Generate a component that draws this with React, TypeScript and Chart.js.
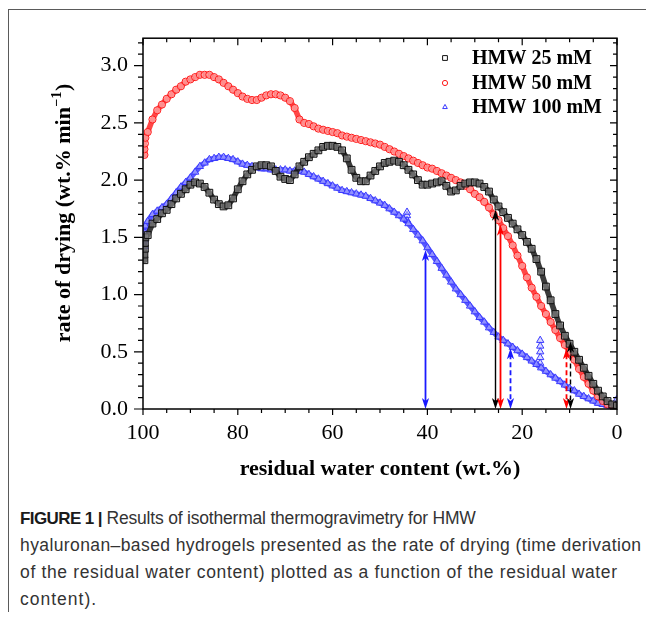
import React, { useEffect, useRef } from "react";
import { Chart, registerables } from "chart.js";

Chart.register(...registerables);

// ---------- data ----------
const seriesLabels = ["HMW 25 mM", "HMW 50 mM", "HMW 100 mM"];

const xTickValues = [100, 80, 60, 40, 20, 0];
const yTickValues = [0, 0.5, 1.0, 1.5, 2.0, 2.5, 3.0];

// residual water content (wt.%)
const waterContent = [
  99, 98, 97, 96, 95, 94, 93, 92, 91, 90, 89, 88, 87, 86, 85, 84, 83, 82, 81, 80,
  79, 78, 77, 76, 75, 74, 73, 72, 71, 70, 69, 68, 67, 66, 65, 64, 63, 62, 61, 60,
  59, 58, 57, 56, 55, 54, 53, 52, 51, 50, 49, 48, 47, 46, 45, 44, 43, 42, 41, 40,
  39, 38, 37, 36, 35, 34, 33, 32, 31, 30, 29, 28, 27, 26, 25, 24, 23, 22, 21, 20,
  19, 18, 17, 16, 15, 14, 13, 12, 11, 10, 9, 8, 7, 6, 5, 4, 3, 2, 1, 0,
];

// rate of drying (wt.% min^-1)
const rate25 = [
  1.52, 1.62, 1.66, 1.71, 1.74, 1.79, 1.84, 1.88, 1.92, 1.96, 1.98, 1.97, 1.94, 1.89, 1.83, 1.79, 1.77, 1.78, 1.84, 1.92,
  1.99, 2.05, 2.09, 2.12, 2.13, 2.13, 2.12, 2.08, 2.03, 2.01, 2.0, 2.05, 2.12, 2.16, 2.2, 2.23, 2.26, 2.29, 2.3, 2.3,
  2.29, 2.26, 2.19, 2.09, 2.02, 1.99, 1.99, 2.04, 2.08, 2.12, 2.15, 2.16, 2.17, 2.16, 2.13, 2.09, 2.05, 2.0, 1.96, 1.96,
  1.97, 1.98, 1.99, 1.95, 1.9, 1.91, 1.95, 1.97, 1.98, 1.98, 1.97, 1.94, 1.9, 1.83, 1.77, 1.72, 1.67, 1.62, 1.57, 1.52,
  1.46, 1.4, 1.31, 1.2, 1.07, 0.95, 0.83, 0.73, 0.64, 0.57, 0.5, 0.43, 0.36, 0.29, 0.22, 0.16, 0.11, 0.07, 0.04, 0.03,
];

const rate50 = [
  2.42, 2.53, 2.61, 2.66, 2.71, 2.75, 2.79, 2.82, 2.86, 2.88, 2.9, 2.92, 2.92, 2.92, 2.9, 2.88, 2.85, 2.82, 2.79, 2.76,
  2.73, 2.71, 2.7, 2.7, 2.72, 2.74, 2.75, 2.75, 2.74, 2.72, 2.69, 2.63, 2.53, 2.5, 2.49, 2.47, 2.45, 2.44, 2.43, 2.42,
  2.41, 2.39, 2.38, 2.37, 2.36, 2.35, 2.34, 2.33, 2.32, 2.31, 2.29, 2.27, 2.25, 2.23, 2.21, 2.19, 2.17, 2.15, 2.13, 2.11,
  2.1, 2.08, 2.06, 2.04, 2.02, 2.0, 1.98, 1.95, 1.92, 1.88, 1.85, 1.81, 1.76, 1.7, 1.65, 1.58, 1.51, 1.43, 1.34, 1.25,
  1.15, 1.06, 0.98, 0.9, 0.83, 0.76, 0.69, 0.62, 0.56, 0.5, 0.43, 0.35, 0.28, 0.22, 0.16, 0.11, 0.07, 0.04, 0.03, 0.02,
];

const rate100 = [
  1.64, 1.7, 1.73, 1.76, 1.79, 1.84, 1.89, 1.94, 1.98, 2.02, 2.07, 2.12, 2.15, 2.18, 2.19, 2.2, 2.2, 2.19, 2.18, 2.16,
  2.14, 2.13, 2.12, 2.11, 2.1, 2.1, 2.09, 2.09, 2.09, 2.09, 2.08, 2.08, 2.08, 2.07, 2.05, 2.03, 2.01, 1.99, 1.97, 1.95,
  1.93, 1.91, 1.9, 1.89, 1.88, 1.87, 1.86, 1.84, 1.82, 1.8, 1.78, 1.75, 1.72, 1.69, 1.66, 1.62, 1.57, 1.52, 1.47, 1.41,
  1.35, 1.29, 1.23, 1.17, 1.11, 1.05, 1.0, 0.95, 0.9, 0.85, 0.8, 0.76, 0.71, 0.67, 0.63, 0.6, 0.57, 0.54, 0.51, 0.48,
  0.45, 0.42, 0.39, 0.36, 0.33, 0.3, 0.27, 0.24, 0.21, 0.18, 0.16, 0.13, 0.11, 0.09, 0.07, 0.05, 0.04, 0.03, 0.02, 0.02,
];

// first recorded points (vertical stacks at ~100 wt.%)
const start25X = [99.7, 99.7, 99.6, 99.6, 99.5];
const start25Y = [1.3, 1.35, 1.4, 1.45, 1.5];
const start50X = [99.7, 99.7, 99.6, 99.5];
const start50Y = [2.22, 2.27, 2.32, 2.37];
const start100X = [99.7, 99.7, 99.6, 99.5];
const start100Y = [1.42, 1.48, 1.54, 1.6];

// isolated scattered points of HMW 100 mM
const extra100X = [44.3, 44.3, 44.3, 16.2, 16.2, 16.2, 16.2, 16.2, 0.1, 0.1];
const extra100Y = [1.65, 1.69, 1.72, 0.4, 0.45, 0.5, 0.55, 0.6, 0.05, 0.08];

// vertical arrows: water content, rate at arrow top, series index, dashed?
const arrowX = [40.5, 25.8, 24.6, 22.6, 10.7, 10.0];
const arrowTop = [1.39, 1.74, 1.61, 0.53, 0.53, 0.59];
const arrowSeries = [2, 0, 1, 2, 1, 0];
const arrowDashed = [false, false, false, true, true, true];

const xTitle = "residual water content (wt.%)";
const yTitleMain = "rate of drying (wt.% min";
const yTitleSup = "\u22121";
const yTitleEnd = ")";

const captionLead = "FIGURE 1 |";
const captionLines = [
  "Results of isothermal thermogravimetry for HMW",
  "hyaluronan\u2013based hydrogels presented as the rate of drying (time derivation",
  "of the residual water content) plotted as a function of the residual water",
  "content).",
];

// ---------- styles ----------
const SERIF = "'Liberation Serif', 'Times New Roman', serif";
const lineColors = ["#000000", "#ff0000", "#1a1aff"];
const bandColors = ["rgba(25,25,25,0.85)", "rgba(255,10,10,0.75)", "rgba(25,25,255,0.72)"];
const pointBorder = ["#111111", "#ff1a1a", "#3a3aff"];
const pointFill = ["rgba(140,140,140,0.6)", "rgba(255,200,200,0.55)", "rgba(190,190,255,0.55)"];
const pointStyles = ["rect", "circle", "triangle"];
const pointRadii = [4.8, 3.6, 4.2];
const captionSpacing = ["-0.2px", "0.4px", "0.65px", "1px"];

function toPoints(xs: number[], ys: number[]) {
  return xs.map((x, i) => ({ x, y: ys[i] }));
}

function drawMarker(ctx: CanvasRenderingContext2D, style: string, x: number, y: number, r: number) {
  ctx.beginPath();
  if (style === "rect") {
    const s = r * Math.SQRT1_2;
    ctx.rect(x - s, y - s, 2 * s, 2 * s);
  } else if (style === "circle") {
    ctx.arc(x, y, r, 0, Math.PI * 2);
  } else {
    ctx.moveTo(x, y - r);
    ctx.lineTo(x + r * 0.9, y + r * 0.6);
    ctx.lineTo(x - r * 0.9, y + r * 0.6);
    ctx.closePath();
  }
  ctx.fill();
  ctx.stroke();
}

function arrowHead(ctx: CanvasRenderingContext2D, x: number, tipY: number, dir: number) {
  // dir = -1 points up, +1 points down
  const len = 11;
  const half = 3.6;
  ctx.beginPath();
  ctx.moveTo(x, tipY);
  ctx.lineTo(x - half, tipY - dir * len);
  ctx.lineTo(x, tipY - dir * (len - 3));
  ctx.lineTo(x + half, tipY - dir * len);
  ctx.closePath();
  ctx.fill();
}

const decorPlugin = {
  id: "decor",
  afterDatasetsDraw(chart: any) {
    const { ctx, chartArea: a, scales } = chart;
    const xs = scales.x;
    const ys = scales.y;
    ctx.save();
    // arrows
    arrowX.forEach((xv, i) => {
      const px = Math.round(xs.getPixelForValue(xv)) + 0.5;
      const top = ys.getPixelForValue(arrowTop[i]);
      const bottom = ys.getPixelForValue(0);
      const col = lineColors[arrowSeries[i]];
      ctx.strokeStyle = col;
      ctx.fillStyle = col;
      ctx.lineWidth = arrowSeries[i] === 0 ? 1.4 : 1.8;
      ctx.setLineDash(arrowDashed[i] ? [5, 3] : []);
      ctx.beginPath();
      ctx.moveTo(px, top + 6);
      ctx.lineTo(px, bottom - 6);
      ctx.stroke();
      ctx.setLineDash([]);
      arrowHead(ctx, px, top, -1);
      arrowHead(ctx, px, bottom, 1);
    });

    // frame
    ctx.strokeStyle = "#000";
    ctx.lineWidth = 1.5;
    ctx.strokeRect(a.left, a.top, a.right - a.left, a.bottom - a.top);

    // ticks
    ctx.lineWidth = 1.2;
    ctx.beginPath();
    for (let v = 0; v <= 100; v += 5) {
      const px = xs.getPixelForValue(v);
      const major = v % 20 === 0;
      ctx.moveTo(px, a.bottom);
      ctx.lineTo(px, a.bottom + (major ? 6 : 4));
      ctx.moveTo(px, a.top);
      ctx.lineTo(px, a.top + (major ? 7 : 4));
    }
    for (let k = 0; k <= 32; k++) {
      const py = ys.getPixelForValue(k / 10);
      const major = k % 5 === 0;
      ctx.moveTo(a.left - (major ? 9 : 5), py);
      ctx.lineTo(a.left, py);
      ctx.moveTo(a.right - (major ? 7 : 4), py);
      ctx.lineTo(a.right, py);
    }
    ctx.stroke();
    ctx.restore();
  },
  afterDraw(chart: any) {
    const { ctx, chartArea: a } = chart;
    ctx.save();
    ctx.fillStyle = "#000";
    // x title
    ctx.font = `bold 22px ${SERIF}`;
    ctx.textAlign = "center";
    ctx.textBaseline = "alphabetic";
    ctx.fillText(xTitle, (a.left + a.right) / 2, 465);

    // y title (rotated, with superscript)
    ctx.save();
    ctx.translate(61, 203);
    ctx.rotate(-Math.PI / 2);
    ctx.textAlign = "left";
    ctx.font = `bold 22px ${SERIF}`;
    const w1 = ctx.measureText(yTitleMain + " ").width - ctx.measureText(" ").width;
    const w3 = ctx.measureText(yTitleEnd).width;
    ctx.font = `bold 14px ${SERIF}`;
    const w2 = ctx.measureText(yTitleSup).width;
    const total = w1 + w2 + w3 + 1;
    let cx = -total / 2;
    ctx.font = `bold 22px ${SERIF}`;
    ctx.fillText(yTitleMain, cx, 0);
    cx += w1;
    ctx.font = `bold 14px ${SERIF}`;
    ctx.fillText(yTitleSup, cx + 0.5, -9);
    cx += w2 + 1;
    ctx.font = `bold 22px ${SERIF}`;
    ctx.fillText(yTitleEnd, cx, 0);
    ctx.restore();

    // legend
    const legendY = [48, 73, 97];
    seriesLabels.forEach((label, i) => {
      ctx.strokeStyle = pointBorder[i];
      ctx.fillStyle = "rgba(255,255,255,0.9)";
      ctx.lineWidth = 1;
      drawMarker(ctx, pointStyles[i], 436, legendY[i], i === 0 ? 3.4 : 2.6);
      ctx.fillStyle = "#000";
      ctx.font = `bold 20px ${SERIF}`;
      ctx.textAlign = "left";
      ctx.textBaseline = "middle";
      ctx.fillText(label, 463, legendY[i] + 1);
    });
    ctx.restore();
  },
};

function makeDataset(i: number, xs: number[], ys: number[], line: boolean) {
  return {
    label: seriesLabels[i],
    data: toPoints(xs, ys),
    showLine: line,
    borderColor: bandColors[i],
    borderWidth: 5.5,
    borderCapStyle: "round",
    borderJoinStyle: "round",
    pointStyle: pointStyles[i],
    pointRadius: pointRadii[i],
    pointBorderWidth: 1,
    pointBorderColor: pointBorder[i],
    pointBackgroundColor: pointFill[i],
    tension: 0,
  };
}

export default function App() {
  const canvasRef = useRef<HTMLCanvasElement | null>(null);

  useEffect(() => {
    if (!canvasRef.current) return;
    const chart = new Chart(canvasRef.current, {
      type: "scatter",
      data: {
        datasets: [
          makeDataset(0, start25X.concat(waterContent), start25Y.concat(rate25), true),
          makeDataset(1, start50X.concat(waterContent), start50Y.concat(rate50), true),
          makeDataset(2, start100X.concat(waterContent), start100Y.concat(rate100), true),
          makeDataset(2, extra100X, extra100Y, false),
        ],
      },
      options: {
        responsive: false,
        animation: false,
        devicePixelRatio: 1,
        layout: { padding: { top: 16, right: 37, left: 0, bottom: 0 } },
        plugins: {
          legend: { display: false },
          tooltip: { enabled: false },
        },
        scales: {
          x: {
            type: "linear",
            reverse: true,
            min: 0,
            max: 100,
            afterBuildTicks: (s: any) => {
              s.ticks = xTickValues.map((v) => ({ value: v }));
            },
            afterFit: (s: any) => {
              s.height = 81;
            },
            grid: { display: false, drawTicks: false },
            border: { display: false },
            ticks: {
              color: "#000",
              padding: 11,
              autoSkip: false,
              maxRotation: 0,
              font: { family: SERIF, size: 22 },
              callback: (v: any) => String(v),
            },
          },
          y: {
            type: "linear",
            min: 0,
            max: 3.24,
            afterBuildTicks: (s: any) => {
              s.ticks = yTickValues.map((v) => ({ value: v }));
            },
            afterFit: (s: any) => {
              s.width = 134;
            },
            grid: { display: false, drawTicks: false },
            border: { display: false },
            ticks: {
              color: "#000",
              padding: 15,
              font: { family: SERIF, size: 22 },
              callback: (v: any) => Number(v).toFixed(1),
            },
          },
        },
      },
      plugins: [decorPlugin],
    });
    return () => chart.destroy();
  }, []);

  return (
    <div
      style={{
        position: "relative",
        width: 645,
        height: 602,
        marginTop: 1,
        borderTop: "1px solid #5a5a5a",
        borderLeft: "1px solid #5a5a5a",
        overflow: "hidden",
      }}
    >
      <canvas
        ref={canvasRef}
        width={645}
        height={480}
        style={{ position: "absolute", left: 0, top: 0, width: 645, height: 480 }}
      />
      <div
        style={{
          position: "absolute",
          left: 11,
          top: 495,
          fontFamily: "'Liberation Sans', Arial, sans-serif",
          fontSize: 17.5,
          lineHeight: "27px",
          color: "#333",
          whiteSpace: "nowrap",
        }}
      >
        {captionLines.map((line, i) => (
          <div key={i} style={{ letterSpacing: captionSpacing[i] }}>
            {i === 0 ? (
              <b style={{ color: "#1a1a1a", letterSpacing: "-0.6px", fontSize: 17 }}>{captionLead}</b>
            ) : null}
            {i === 0 ? " " : ""}
            {line}
          </div>
        ))}
      </div>
    </div>
  );
}
